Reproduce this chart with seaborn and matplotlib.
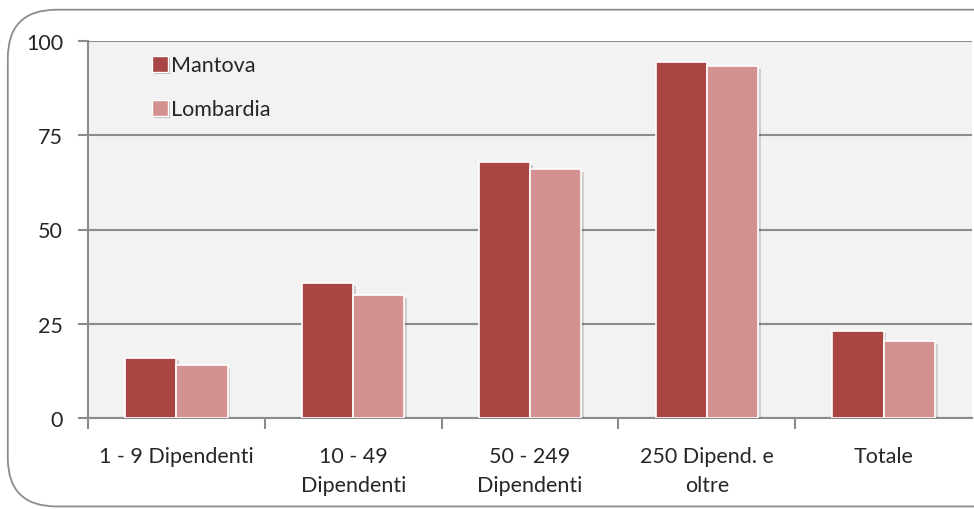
import matplotlib
matplotlib.use("Agg")
import matplotlib.pyplot as plt
import matplotlib.patheffects as pe
from matplotlib.patches import FancyBboxPatch, Patch
import pandas as pd
import seaborn as sns

categorie = ["1 - 9 Dipendenti", "10 - 49\nDipendenti", "50 - 249\nDipendenti",
             "250 Dipend. e\noltre", "Totale"]
mantova = [16.0, 35.8, 67.9, 94.5, 23.2]
lombardia = [14.1, 32.6, 66.0, 93.4, 20.3]
serie = ["Mantova", "Lombardia"]
colori = ["#a94543", "#d39191"]

df = pd.DataFrame({
    "cat": categorie * 2,
    "val": mantova + lombardia,
    "serie": [serie[0]] * len(categorie) + [serie[1]] * len(categorie),
})

sns.set_style("white")
plt.rcParams["font.family"] = ["Lato", "DejaVu Sans"]

fig = plt.figure(figsize=(9.74, 5.10), dpi=100)
# cornice arrotondata stile Excel
cornice = FancyBboxPatch((0.008, 0.005), 1.2, 0.974, transform=fig.transFigure,
                         boxstyle="round,pad=0,rounding_size=0.05",
                         facecolor="white", edgecolor="#8c8c8c", lw=1.3,
                         mutation_aspect=974 / 510, zorder=-10)
fig.patches.append(cornice)

ax = fig.add_axes([88 / 974, 1 - 419 / 510, 884 / 974, (419 - 42) / 510])
ax.set_facecolor("#f2f2f2")

sns.barplot(data=df, x="cat", y="val", hue="serie", palette=colori, width=0.58,
            saturation=1, edgecolor="white", linewidth=1.2, ax=ax, legend=False, zorder=3)
for p in ax.patches:
    p.set_path_effects([pe.SimplePatchShadow(offset=(2, -2), alpha=0.18), pe.Normal()])

ax.set_ylim(0, 100)
ax.set_xlim(-0.5, 4.5)
ax.set_yticks([0, 25, 50, 75, 100])
ax.yaxis.grid(True, color="#8c8c8c", lw=1.5, zorder=0)
ax.set_axisbelow(True)
for s in ["top", "right"]:
    ax.spines[s].set_visible(False)
for s in ["left", "bottom"]:
    ax.spines[s].set_color("#8c8c8c")
    ax.spines[s].set_linewidth(1.5)

ax.tick_params(axis="y", length=7, width=1.5, color="#8c8c8c", labelsize=15.5, pad=11,
               left=True)
ax.tick_params(axis="x", which="major", length=0, labelsize=15.5, pad=20.5)
for t in ax.get_xticklabels():
    t.set_linespacing(1.55)
ax.set_xticks([i - 0.5 for i in range(5)], minor=True)
ax.tick_params(axis="x", which="minor", length=8, width=1.5, color="#8c8c8c", bottom=True)
ax.set_xlabel("")
ax.set_ylabel("")

handles = [Patch(facecolor=c, edgecolor="white", lw=1,
                 path_effects=[pe.SimplePatchShadow(offset=(1.5, -1.5), alpha=0.3), pe.Normal()])
           for c in colori]
ax.legend(handles, serie, loc="upper left", bbox_to_anchor=(0.05, 1.013), frameon=False,
          fontsize=15.5, handlelength=0.75, handleheight=0.75, handletextpad=0.15,
          labelspacing=1.1)

fig.savefig("out.png", dpi=100)
